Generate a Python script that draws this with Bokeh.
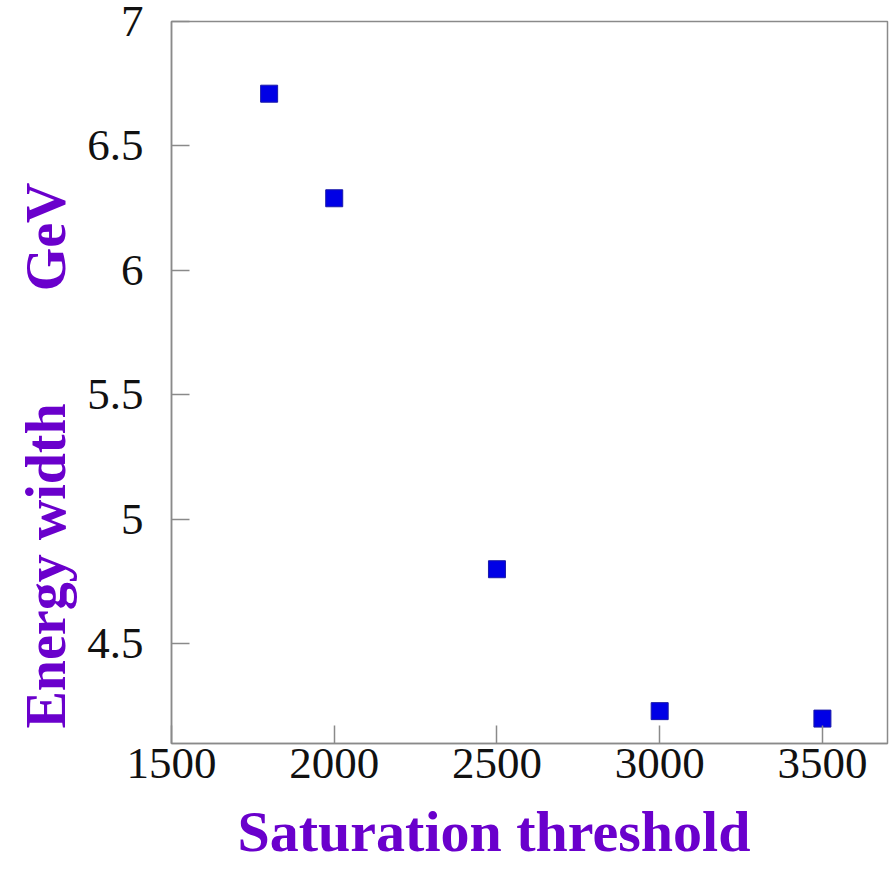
from bokeh.plotting import figure
from bokeh.models import Range1d, FixedTicker, CustomJSTickFormatter, Title
from bokeh.embed import file_html
from bokeh.resources import INLINE

# Data
thresholds = [1800, 2000, 2500, 3000, 3500]
energy_width = [6.71, 6.29, 4.80, 4.23, 4.20]
x_ticks = [1500, 2000, 2500, 3000, 3500]
y_ticks = [4.5, 5, 5.5, 6, 6.5, 7]
x_title = "Saturation threshold"
y_title = "Energy width" + "\u00a0" * 8 + "GeV"

SERIF = "Liberation Serif"
PURPLE = "#6a00cc"
GRAY = "#8a8a8a"

p = figure(width=895, height=880, output_backend="svg", toolbar_location=None,
           x_range=Range1d(1500, 3700), y_range=Range1d(4.1, 7.0),
           min_border_left=171, min_border_right=8, min_border_top=21, min_border_bottom=137,
           background_fill_color="white", border_fill_color="white")

p.grid.visible = False
p.outline_line_color = GRAY
p.outline_line_width = 1.5

for ax in (p.xaxis[0], p.yaxis[0]):
    ax.axis_line_color = GRAY
    ax.axis_line_width = 1.5
    ax.major_tick_line_color = GRAY
    ax.major_tick_line_width = 1.5
    ax.major_tick_in = 18
    ax.major_tick_out = 0
    ax.minor_tick_line_color = None
    ax.major_label_text_font = SERIF
    ax.major_label_text_font_size = "45px"
    ax.major_label_text_color = "#111111"
    ax.formatter = CustomJSTickFormatter(code="return String(tick)")

p.xaxis[0].ticker = FixedTicker(ticks=x_ticks)
p.yaxis[0].ticker = FixedTicker(ticks=y_ticks)
p.xaxis[0].major_label_standoff = 5
p.yaxis[0].major_label_standoff = 28

p.scatter(thresholds, energy_width, marker="square", size=17,
          fill_color="#0000e6", line_color="#1a1aa8", line_width=1)

# Axis titles
p.add_layout(Title(text=x_title, align="left", offset=66, standoff=33,
                   text_font=SERIF, text_font_style="bold", text_font_size="58px",
                   text_color=PURPLE), "below")
p.add_layout(Title(text=y_title, align="left", offset=15, standoff=15,
                   text_font=SERIF, text_font_style="bold", text_font_size="56px",
                   text_color=PURPLE), "left")

open("out.html", "w").write(file_html(p, INLINE))
